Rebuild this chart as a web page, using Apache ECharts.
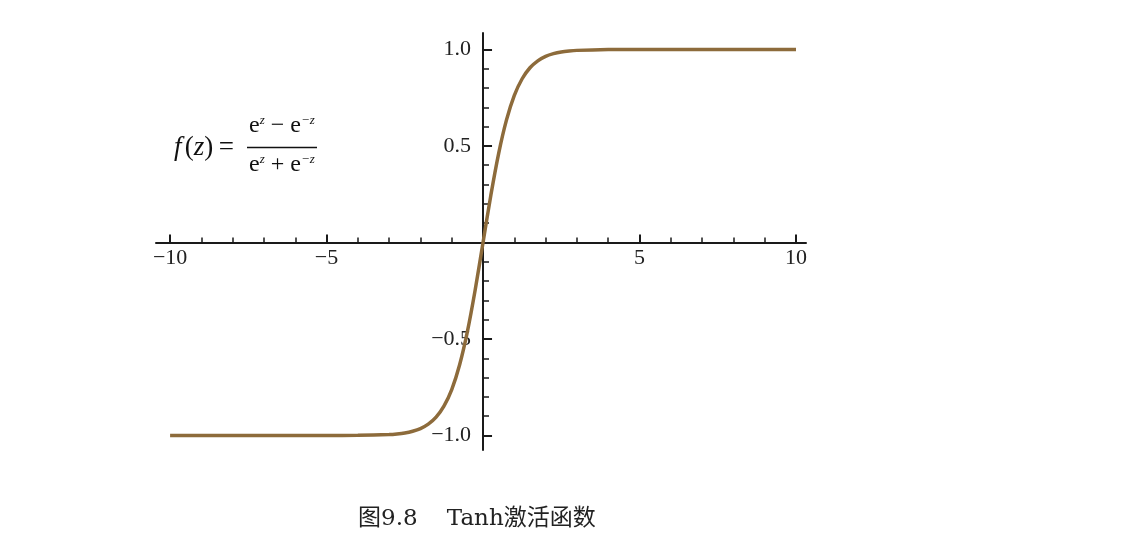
<!DOCTYPE html>
<html>
<head>
<meta charset="utf-8">
<script src="https://cdn.jsdelivr.net/npm/echarts@6/dist/echarts.min.js"></script>
<style>
  html, body { margin: 0; padding: 0; background: #ffffff; }
  #chart { width: 1122px; height: 554px; }
</style>
</head>
<body>
<div id="chart"></div>
<script>
const zValues = [-10, -9, -8, -7, -6, -5, -4, -3, -2.75, -2.5, -2.25, -2, -1.75, -1.5, -1.25, -1, -0.75, -0.5, -0.25,
  0, 0.25, 0.5, 0.75, 1, 1.25, 1.5, 1.75, 2, 2.25, 2.5, 2.75, 3, 4, 5, 6, 7, 8, 9, 10];
const fValues = [-1.0, -1.0, -1.0, -1.0, -1.0, -1.0, -0.999, -0.995, -0.992, -0.987, -0.978, -0.964, -0.941, -0.905, -0.848, -0.762, -0.635, -0.462, -0.245,
  0, 0.245, 0.462, 0.635, 0.762, 0.848, 0.905, 0.941, 0.964, 0.978, 0.987, 0.992, 0.995, 0.999, 1.0, 1.0, 1.0, 1.0, 1.0, 1.0];

const xMajorTicks = [-10, -5, 5, 10];
const xMinorTicks = [-9, -8, -7, -6, -4, -3, -2, -1, 1, 2, 3, 4, 6, 7, 8, 9];
const yMajorTicks = [-1.0, -0.5, 0.5, 1.0];
const yMinorTicks = [-0.9, -0.8, -0.7, -0.6, -0.4, -0.3, -0.2, -0.1, 0.1, 0.2, 0.3, 0.4, 0.6, 0.7, 0.8, 0.9];

const captionText = '图9.8    Tanh激活函数';

const X_MIN = -10.45, X_MAX = 10.32, Y_MIN = -1.075, Y_MAX = 1.085;

const seriesData = zValues.map((z, i) => [z, fValues[i]]);
const minus = s => String(s).replace('-', '\u2212');

const serif = "'Liberation Serif', 'DejaVu Serif', serif";
const axisColor = '#1a1a1a';
const labelStyle = { fontFamily: serif, fontSize: 22, color: '#222' };

const chart = echarts.init(document.getElementById('chart'), null, { renderer: 'canvas' });

function buildOption(xOffset, yOffset) {
  return {
    backgroundColor: '#ffffff',
    animation: false,
    grid: { left: 156, right: 316, top: 33, bottom: 104, containLabel: false },
    xAxis: [
      {
        type: 'value', min: X_MIN, max: X_MAX, position: 'bottom', offset: xOffset,
        axisLine: { show: true, onZero: false, lineStyle: { color: axisColor, width: 2 } },
        axisTick: { show: true, inside: true, length: 8, customValues: xMajorTicks, lineStyle: { color: axisColor, width: 2 } },
        axisLabel: { show: true, customValues: xMajorTicks, margin: 5, formatter: v => minus(v), ...labelStyle },
        splitLine: { show: false }
      },
      {
        type: 'value', min: X_MIN, max: X_MAX, position: 'bottom', offset: xOffset,
        axisLine: { show: false, onZero: false },
        axisTick: { show: true, inside: true, length: 5, customValues: xMinorTicks, lineStyle: { color: axisColor, width: 1.5 } },
        axisLabel: { show: false },
        splitLine: { show: false }
      }
    ],
    yAxis: [
      {
        type: 'value', min: Y_MIN, max: Y_MAX, position: 'left', offset: yOffset,
        axisLine: { show: true, onZero: false, lineStyle: { color: axisColor, width: 2 } },
        axisTick: { show: true, inside: true, length: 9, customValues: yMajorTicks, lineStyle: { color: axisColor, width: 2 } },
        axisLabel: { show: true, customValues: yMajorTicks, margin: 12, formatter: v => minus(Number(v).toFixed(1)), ...labelStyle },
        splitLine: { show: false }
      },
      {
        type: 'value', min: Y_MIN, max: Y_MAX, position: 'left', offset: yOffset,
        axisLine: { show: false, onZero: false },
        axisTick: { show: true, inside: true, length: 6, customValues: yMinorTicks, lineStyle: { color: axisColor, width: 1.5 } },
        axisLabel: { show: false },
        splitLine: { show: false }
      }
    ],
    series: [
      {
        type: 'line',
        xAxisIndex: 0, yAxisIndex: 0,
        data: seriesData,
        showSymbol: false,
        smooth: 0.3,
        lineStyle: { color: '#8d6b3b', width: 3.5 },
        z: 5
      }
    ],
    graphic: [
      {
        type: 'text', left: 174, top: 134,
        style: {
          text: '{i|f} {n|(}{i|z}{n|)\u2009=}',
          rich: {
            i: { fontFamily: serif, fontStyle: 'italic', fontSize: 27, fill: '#111' },
            n: { fontFamily: serif, fontSize: 27, fill: '#111' }
          }
        }
      },
      {
        type: 'text', left: 249, top: 114,
        style: {
          text: '{b|e}{s|z}{b| \u2212 e}{s|\u2212z}',
          rich: {
            b: { fontFamily: serif, fontSize: 24, fill: '#111' },
            s: { fontFamily: serif, fontStyle: 'italic', fontSize: 13, fill: '#111', verticalAlign: 'top', padding: [0, 0, 10, 0] }
          }
        }
      },
      {
        type: 'line', shape: { x1: 247, y1: 147.5, x2: 317, y2: 147.5 },
        style: { stroke: '#111', lineWidth: 1.5 }
      },
      {
        type: 'text', left: 249, top: 153,
        style: {
          text: '{b|e}{s|z}{b| + e}{s|\u2212z}',
          rich: {
            b: { fontFamily: serif, fontSize: 24, fill: '#111' },
            s: { fontFamily: serif, fontStyle: 'italic', fontSize: 13, fill: '#111', verticalAlign: 'top', padding: [0, 0, 10, 0] }
          }
        }
      },
      {
        type: 'text', left: 358, top: 508,
        style: {
          text: captionText,
          fontFamily: "'DejaVu Serif', 'Noto Sans CJK SC', serif",
          fontSize: 23, fill: '#222'
        }
      }
    ]
  };
}

chart.setOption(buildOption(0, 0));
// place the axes through the origin using the library's own scales
const zeroX = chart.convertToPixel({ xAxisIndex: 0 }, 0);
const leftX = chart.convertToPixel({ xAxisIndex: 0 }, X_MIN);
const zeroY = chart.convertToPixel({ yAxisIndex: 0 }, 0);
const bottomY = chart.convertToPixel({ yAxisIndex: 0 }, Y_MIN);
chart.setOption(buildOption(zeroY - bottomY, leftX - zeroX), true);
</script>
</body>
</html>
